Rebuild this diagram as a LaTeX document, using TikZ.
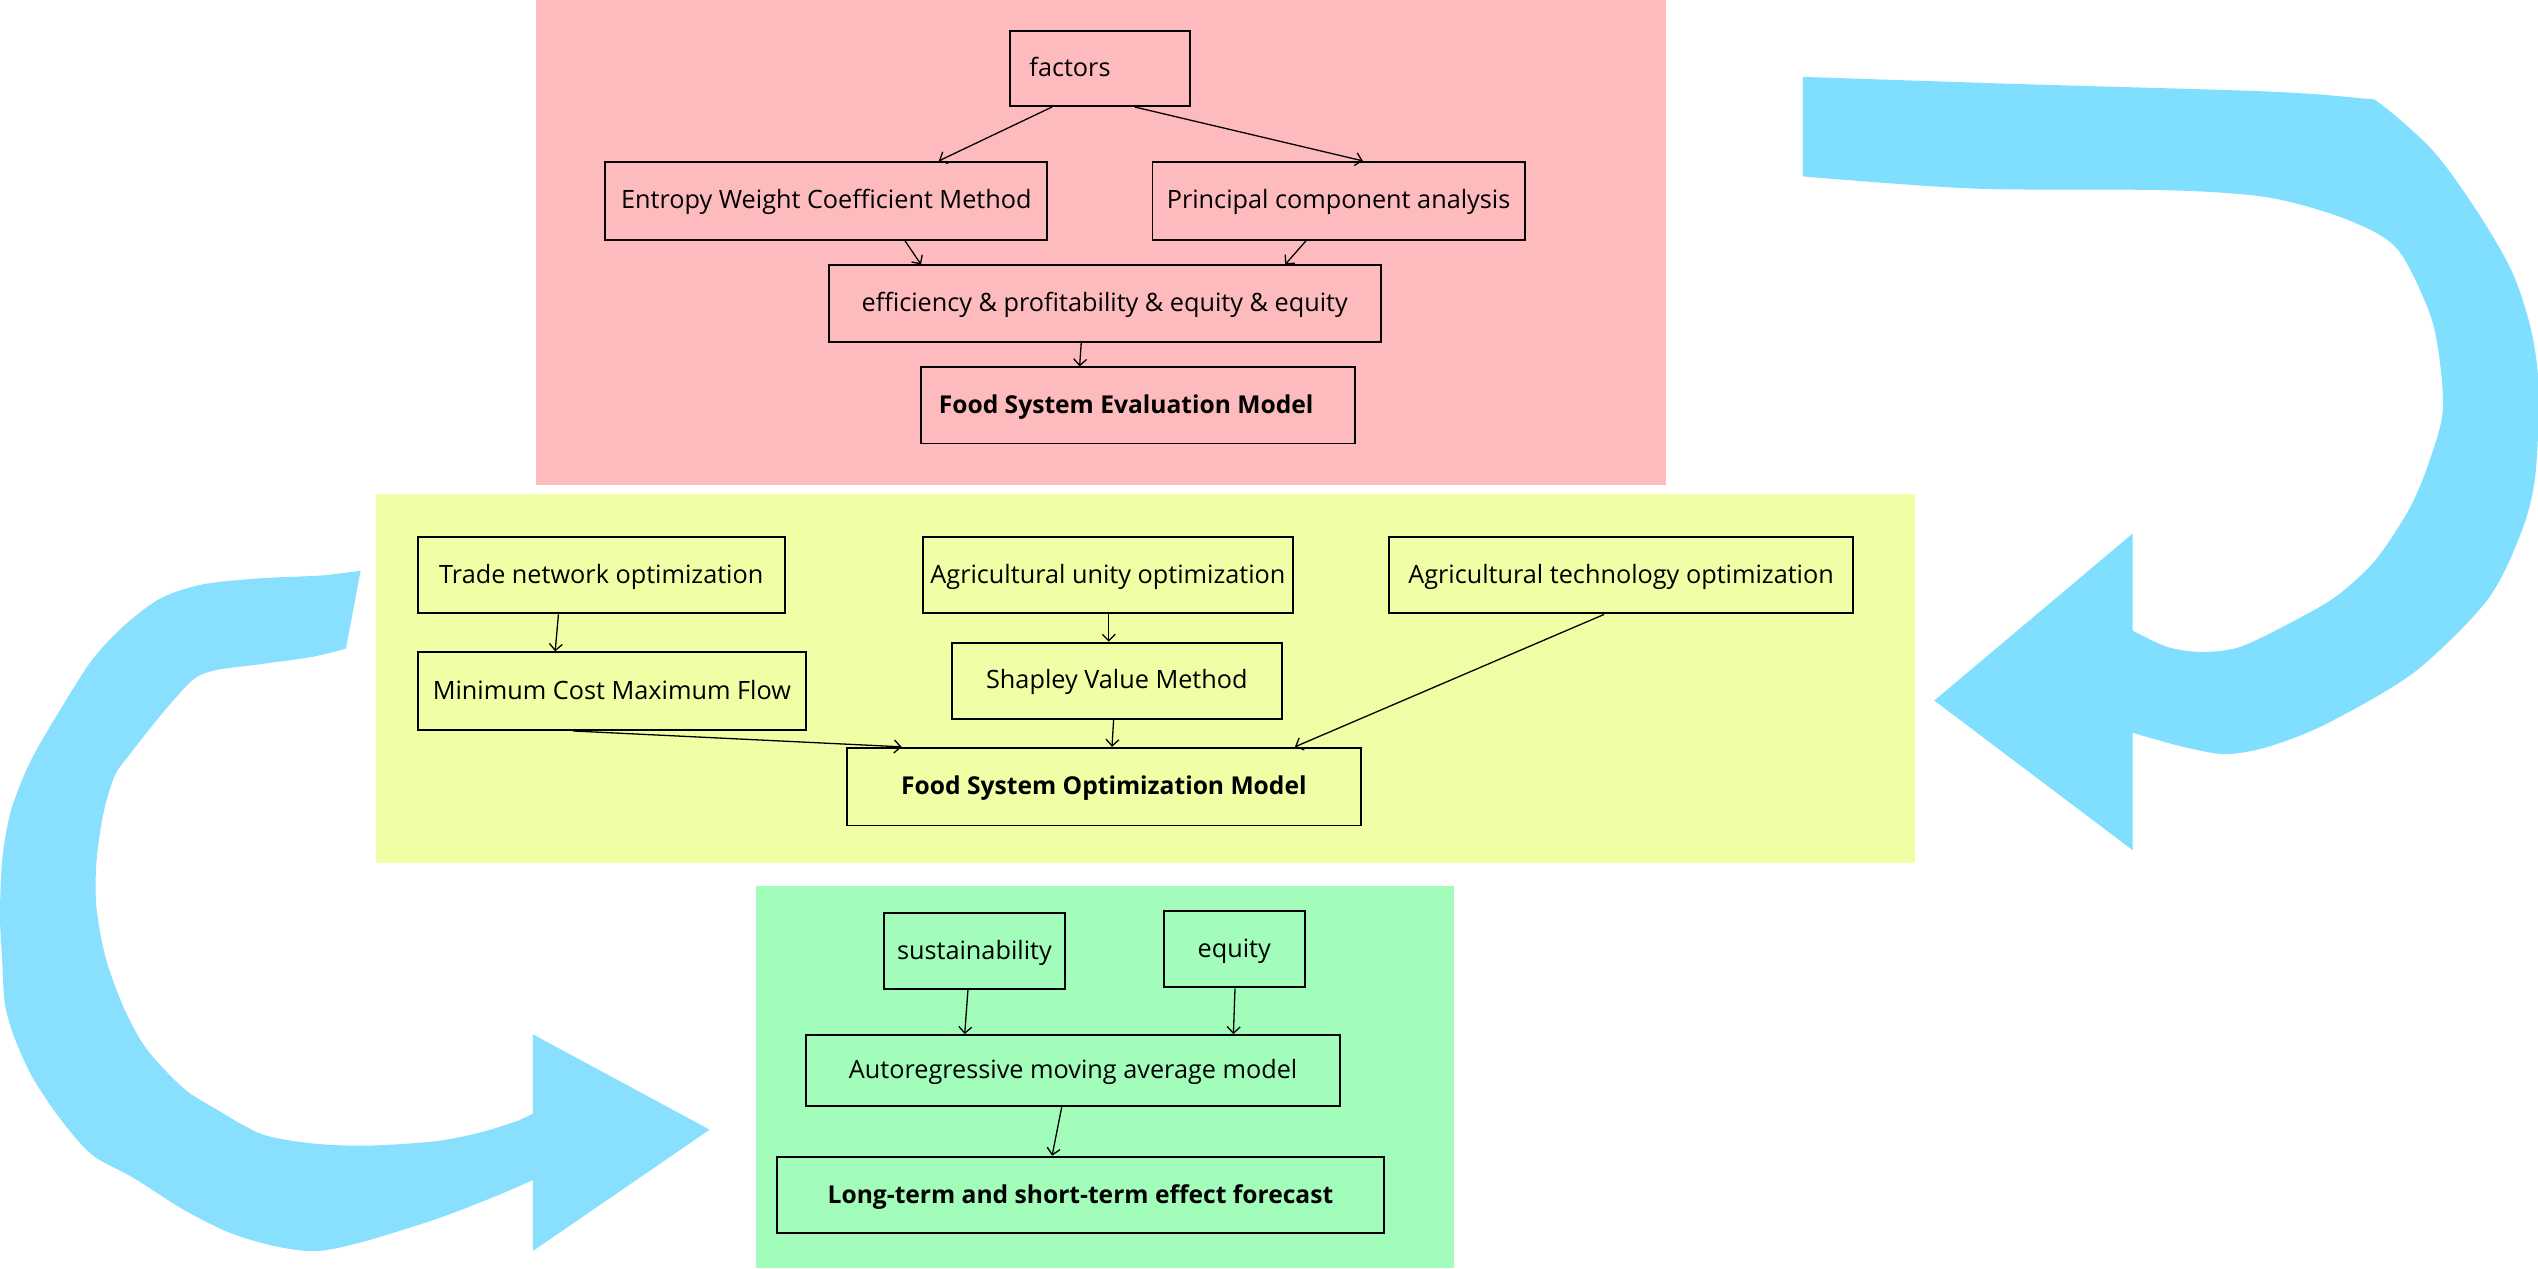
\documentclass[tikz,border=0pt]{standalone}
\usepackage{fontspec}
\setmainfont{Open Sans}
\usetikzlibrary{arrows.meta}
\definecolor{pinkbg}{RGB}{254,187,190}
\definecolor{yellowbg}{RGB}{240,254,165}
\definecolor{greenbg}{RGB}{162,253,187}
\definecolor{bluer}{RGB}{128,223,255}
\definecolor{bluel}{RGB}{137,224,254}
\tikzset{
  box/.style={draw, line width=1.2pt, inner sep=0pt, font=\fontsize{15.6}{18}\selectfont, text height=12.5pt, text depth=2.5pt},
  bbox/.style={box, font=\fontsize{15.2}{18}\selectfont\bfseries},
  conn/.style={line width=0.8pt, -{Straight Barb[length=4pt,width=8pt]}},
}
\begin{document}
\begin{tikzpicture}[x=1pt,y=-1pt]
\useasboundingbox (0,0) rectangle (1568,783.4);
% panels
\fill[pinkbg] (331,0) rectangle (1029,299.5);
\fill[yellowbg] (232,305) rectangle (1183,533);
\fill[greenbg] (467,547.6) rectangle (898,783.4);
% blue arrows
\fill[bluer] plot[smooth,tension=0.5] coordinates {(1113.8,47.5) (1250,52) (1400,56.5) (1458.5,60.7) (1470.5,64) (1503,93) (1530,130) (1552,168) (1564,205) (1568.5,242) (1566.1,295.6) (1557.1,330.3) (1536.2,371.3) (1491.4,415.4) (1437.6,447) (1401.8,461.2) (1374.9,465.9) (1348,461.2) (1317.5,452.7)}
  -- (1317.5,525.2) -- (1195,432.8) -- (1317.5,329.7) -- (1317.5,389.6)
  -- plot[smooth,tension=0.5] coordinates {(1317.5,389.6) (1339,399.7) (1360,402.8) (1383.9,399.7) (1416.7,383.9) (1443.6,368.2) (1467.5,346.1) (1488.4,314.5) (1500.4,286.2) (1509.3,251.5) (1503.4,201) (1485.4,160) (1470,145) (1440,132) (1398.8,121.6) (1339,117.5) (1219.5,116.5) (1113.8,109)} -- cycle;
\fill[bluel] plot[smooth,tension=0.5] coordinates {(222.8,352.6) (198.6,355.5) (158.9,357.4) (124.9,361.1) (99.3,369.6) (76.6,386.6) (56.8,407.8) (36.9,439) (19,470) (7,500) (1.5,530) (0,565) (1.4,594.6) (3,620) (8.5,639.9) (19.9,665.3) (36.9,690.8) (56.8,713.4) (82.3,727.6) (113.5,747.4) (141.9,761.6) (170.3,770) (195.8,772.9) (224.2,767.2) (269.6,753.1) (306.5,738.9) (329.2,729)}
  -- (329.2,772.9) -- (438.4,697.9) -- (329.2,639) -- (329.2,688)
  -- plot[smooth,tension=0.5] coordinates {(320.7,692.2) (298,699.3) (269.6,705) (227,707.8) (193,706.4) (161.8,700.7) (133.4,685.2) (113.5,672.4) (90.8,648.4) (76.6,622.9) (65.3,591.8) (59.6,560.6) (59.6,532.3) (64,502) (71,479) (81,465) (100,441) (119.2,420) (133.4,414) (158.9,410.6) (193,405.8) (213.7,400.7)} -- cycle;
% evaluation panel
\node[box, minimum width=111pt, minimum height=46.5pt] (factors) at (679.5,42.25) {\makebox[87pt][l]{factors}};
\node[box, minimum width=273pt, minimum height=48pt] (ent) at (510.5,124) {Entropy Weight Coefficient Method};
\node[box, minimum width=230pt, minimum height=48pt] (pca) at (827,124) {Principal component analysis};
\node[box, minimum width=341pt, minimum height=47pt] (eff) at (682.5,187.5) {efficiency \& profitability \& equity \& equity};
\node[bbox, minimum width=268pt, minimum height=47pt] (feval) at (703,250.5) {\makebox[246pt][l]{Food System Evaluation Model}};
\draw[conn] ([xshift=-29.5pt]factors.south) -- ([xshift=69.5pt]ent.north);
\draw[conn] ([xshift=21.5pt]factors.south) -- ([xshift=15pt]pca.north);
\draw[conn] ([xshift=48.5pt]ent.south) -- ([xshift=-113.5pt]eff.north);
\draw[conn] ([xshift=-20pt]pca.south) -- ([xshift=111.5pt]eff.north);
\draw[conn] ([xshift=-14.5pt]eff.south) -- ([xshift=-36pt]feval.north);
% optimization panel
\node[box, minimum width=227pt, minimum height=47pt] (trade) at (371.5,355.5) {Trade network optimization};
\node[box, minimum width=229pt, minimum height=47pt] (unity) at (684.5,355.5) {Agricultural unity optimization};
\node[box, minimum width=287pt, minimum height=47pt] (tech) at (1001.5,355.5) {Agricultural technology optimization};
\node[box, minimum width=240pt, minimum height=48pt] (mcmf) at (378,427) {Minimum Cost Maximum Flow};
\node[box, minimum width=204pt, minimum height=47pt] (shap) at (690,420.5) {Shapley Value Method};
\node[bbox, minimum width=318pt, minimum height=48pt] (fopt) at (682,486) {Food System Optimization Model};
\draw[conn] ([xshift=-26.5pt]trade.south) -- ([xshift=-35pt]mcmf.north);
\draw[conn] ([xshift=0.5pt]unity.south) -- ([xshift=-5pt]shap.north);
\draw[conn] ([xshift=-24pt]mcmf.south) -- ([xshift=-125pt]fopt.north);
\draw[conn] ([xshift=-2pt]shap.south) -- ([xshift=5pt]fopt.north);
\draw[conn] ([xshift=-10.5pt]tech.south) -- ([xshift=118pt]fopt.north);
% forecast panel
\node[box, minimum width=112pt, minimum height=47pt] (sust) at (602,587.5) {sustainability};
\node[box, minimum width=87pt, minimum height=47pt] (eq) at (762.5,586.5) {equity};
\node[box, minimum width=330pt, minimum height=43.5pt] (arma) at (663,661.25) {Autoregressive moving average model};
\node[bbox, minimum width=375pt, minimum height=47.4pt] (long) at (667.5,738.3) {Long-term and short-term effect forecast};
\draw[conn] ([xshift=-4pt]sust.south) -- ([xshift=-67pt]arma.north);
\draw[conn] ([xshift=0.5pt]eq.south) -- ([xshift=99pt]arma.north);
\draw[conn] ([xshift=-7pt]arma.south) -- ([xshift=-17.5pt]long.north);
\end{tikzpicture}
\end{document}
